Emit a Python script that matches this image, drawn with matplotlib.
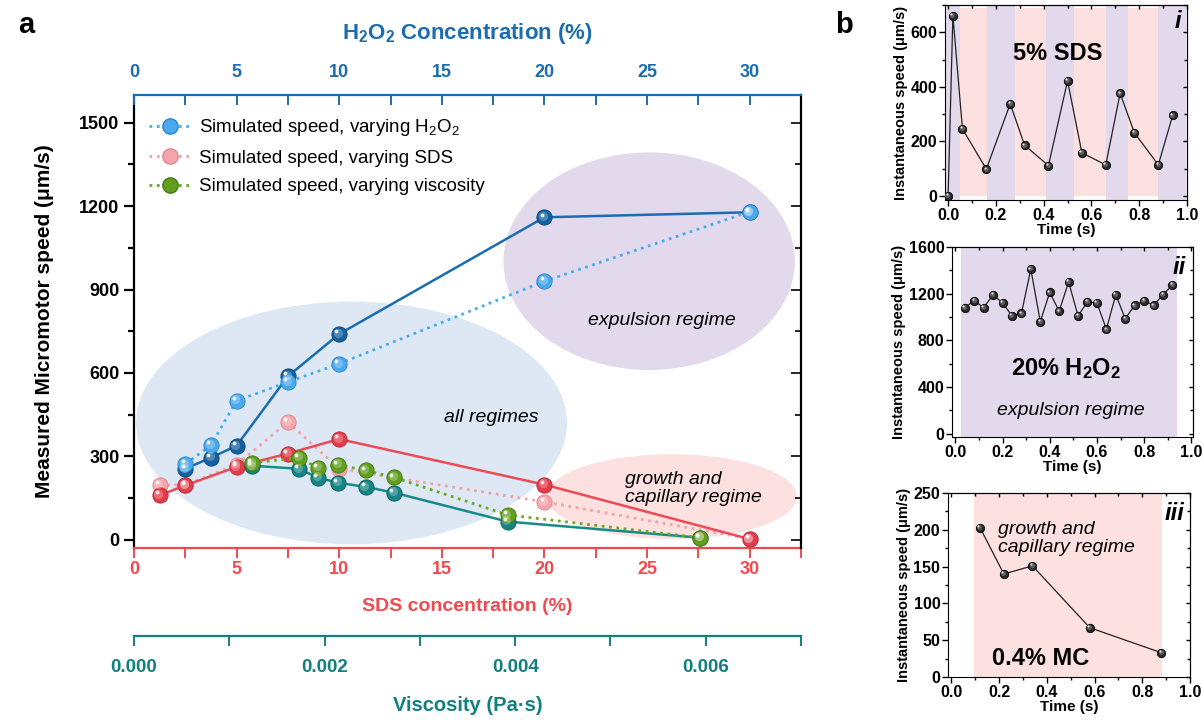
import numpy as np
import matplotlib
matplotlib.use("Agg")
import matplotlib.pyplot as plt
from matplotlib.patches import Ellipse
from matplotlib.transforms import offset_copy
from matplotlib.ticker import MultipleLocator, FormatStrFormatter

plt.rcParams["font.family"] = ["Liberation Sans", "DejaVu Sans"]
plt.rcParams["mathtext.fontset"] = "custom"
plt.rcParams["mathtext.rm"] = "Liberation Sans"
plt.rcParams["mathtext.bf"] = "Liberation Sans:bold"
plt.rcParams["mathtext.it"] = "Liberation Sans:italic"
plt.rcParams["mathtext.default"] = "rm"

# ---- panel a data ----
h2o2_pct = [2.5, 3.75, 5, 7.5, 10, 20, 30]
h2o2_measured = [255, 295, 338, 588, 740, 1160, 1178]
h2o2_simulated = [272, 340, 500, 567, 633, 930, 1180]

sds_pct = [1.25, 2.5, 5, 7.5, 10, 20, 30]
sds_measured = [160, 195, 262, 310, 362, 198, 2]
sds_simulated = [197, 197, 270, 423, 255, 136, 3]

viscosity = [0.00124, 0.00173, 0.00193, 0.00214, 0.00243, 0.00273, 0.00392, 0.00594]
visc_measured = [266, 255, 223, 205, 190, 169, 65, 7]
visc_simulated = [276, 295, 259, 270, 249, 224, 89, 7]

# ---- panel b data ----
t_sds = [0, 0.02, 0.06, 0.16, 0.26, 0.32, 0.42, 0.50, 0.56, 0.66, 0.72, 0.78, 0.88, 0.94]
v_sds = [0, 661, 246, 98, 338, 186, 111, 422, 158, 114, 376, 231, 114, 295]
band_edges = [-0.013, 0.049, 0.164, 0.28, 0.41, 0.529, 0.659, 0.755, 0.878, 0.997]

t_h2o2 = [0.04, 0.08, 0.12, 0.16, 0.20, 0.24, 0.28, 0.32, 0.36, 0.40, 0.44, 0.48,
          0.52, 0.56, 0.60, 0.64, 0.68, 0.72, 0.76, 0.80, 0.84, 0.88, 0.92]
v_h2o2 = [1080, 1140, 1080, 1190, 1120, 1010, 1030, 1410, 960, 1210, 1050, 1300,
          1010, 1130, 1120, 895, 1190, 985, 1100, 1140, 1100, 1190, 1275]

t_mc = [0.12, 0.22, 0.34, 0.58, 0.88]
v_mc = [203, 140, 151, 67, 33]

RED = "#f04a4f"
BLUE = "#1a6db0"
TEAL = "#12807f"
PURPLE_BG = "#e3d9ec"
PINK_BG = "#fde0e0"
BLUE_BG = "#dde8f4"

fig = plt.figure(figsize=(12.03, 7.2), dpi=100)


def balls(ax, x, y, color, shade, size=11, z=5, **kw):
    # fake a shaded sphere: base disc + lighter disc + white glint
    h, = ax.plot(x, y, "o", ms=size, mfc=color, mec=shade, mew=0.6, zorder=z, **kw)
    t1 = offset_copy(ax.transData, fig=fig, x=-size * 0.08, y=size * 0.08, units="points")
    ax.plot(x, y, "o", ms=size * 0.6, mfc="white", mec="none", alpha=0.25,
            transform=t1, zorder=z + 0.1)
    t2 = offset_copy(ax.transData, fig=fig, x=-size * 0.18, y=size * 0.18, units="points")
    ax.plot(x, y, "o", ms=size * 0.25, mfc="white", mec="none", alpha=0.85,
            transform=t2, zorder=z + 0.2)
    return h


# ================= panel a =================
ax = fig.add_axes([134 / 1203, 1 - 548 / 720, 667 / 1203, 453 / 720])
ax.set_xlim(0, 32.5)
ax.set_ylim(-30, 1600)

ax2 = ax.twiny()   # H2O2 on top
ax2.set_xlim(0, 32.5)
ax3 = ax.twiny()   # viscosity, detached bottom axis
ax3.set_xlim(0, 0.007)

# regime ellipses
ax.add_patch(Ellipse((26.2, 155), 12.2, 305, color=PINK_BG, lw=0, zorder=0))
ax.add_patch(Ellipse((10.6, 420), 21.0, 873, color=BLUE_BG, lw=0, zorder=0.1))
ax.add_patch(Ellipse((25.1, 1002), 14.2, 783, color=PURPLE_BG, lw=0, zorder=0.2))

ax.text(17.4, 438, "all regimes", style="italic", fontsize=14, ha="center", va="center")
ax.text(25.7, 790, "expulsion regime", style="italic", fontsize=14, ha="center", va="center")
ax.text(23.9, 183, "growth and\ncapillary regime", style="italic", fontsize=14,
        ha="left", va="center", linespacing=1.1)

# SDS series
ax.plot(sds_pct, sds_simulated, ":", color="#f2a2aa", lw=2, zorder=3)
balls(ax, sds_pct, sds_simulated, "#f4a4ab", "#e08890")
ax.plot(sds_pct, sds_measured, "-", color="#ec4a55", lw=1.8, zorder=3)
balls(ax, sds_pct, sds_measured, "#e43c4a", "#b82835")

# H2O2 series
ax2.plot(h2o2_pct, h2o2_measured, "-", color=BLUE, lw=1.8, zorder=3)
balls(ax2, h2o2_pct, h2o2_measured, "#15609f", "#0d4778")
ax2.plot(h2o2_pct, h2o2_simulated, ":", color="#45aef0", lw=2, zorder=3)
balls(ax2, h2o2_pct, h2o2_simulated, "#4aa8ec", "#2b86c8")

# viscosity series
ax3.plot(viscosity, visc_measured, "-", color="#178a8a", lw=1.8, zorder=3)
balls(ax3, viscosity, visc_measured, "#148484", "#0b5f5f")
ax3.plot(viscosity, visc_simulated, ":", color="#6aaa22", lw=2, zorder=3)
balls(ax3, viscosity, visc_simulated, "#5f9f1d", "#447a10")

# legend
hb, = ax3.plot([], [], ":", color="#45aef0", lw=2, marker="o", ms=11,
               mfc="#4aa8ec", mec="#2b86c8")
hp, = ax3.plot([], [], ":", color="#f2a2aa", lw=2, marker="o", ms=11,
               mfc="#f4a4ab", mec="#e08890")
hg, = ax3.plot([], [], ":", color="#6aaa22", lw=2, marker="o", ms=11,
               mfc="#5f9f1d", mec="#447a10")
ax3.legend([hb, hp, hg],
           ["Simulated speed, varying H$_2$O$_2$", "Simulated speed, varying SDS",
            "Simulated speed, varying viscosity"],
           loc="upper left", bbox_to_anchor=(141 / 1203, 1 - 110 / 720),
           bbox_transform=fig.transFigure, frameon=False, fontsize=13.5,
           handlelength=2.3, handletextpad=0.4, labelspacing=0.6, borderaxespad=0)

# spines
ax.spines["top"].set_visible(False)
ax.spines["right"].set_visible(False)
ax.spines["left"].set_linewidth(1.6)
ax.spines["bottom"].set_color(RED)
ax.spines["bottom"].set_linewidth(1.6)

for s in ["bottom", "left"]:
    ax2.spines[s].set_visible(False)
ax2.spines["top"].set_color(BLUE)
ax2.spines["top"].set_linewidth(1.6)
ax2.spines["right"].set_linewidth(1.6)

for s in ["top", "left", "right"]:
    ax3.spines[s].set_visible(False)
ax3.xaxis.set_ticks_position("bottom")
ax3.xaxis.set_label_position("bottom")
ax3.spines["bottom"].set_visible(True)
ax3.spines["bottom"].set_position(("outward", 63))
ax3.spines["bottom"].set_color(TEAL)
ax3.spines["bottom"].set_linewidth(1.6)

# ticks
ax.yaxis.set_major_locator(MultipleLocator(300))
ax.yaxis.set_minor_locator(MultipleLocator(150))
ax.tick_params(axis="y", which="major", direction="out", length=7, width=1.6, labelsize=13)
ax.tick_params(axis="y", which="minor", direction="out", length=4, width=1.6)
for lab in ax.get_yticklabels():
    lab.set_fontweight("bold")

ax2.yaxis.set_visible(True)
ax2.yaxis.tick_right()
ax2.tick_params(axis="y", which="major", direction="in", length=7, width=1.2, labelright=False)
ax2.tick_params(axis="y", which="minor", direction="in", length=4, width=1.2)

for a_, col, d in [(ax, RED, "out"), (ax2, BLUE, "in")]:
    a_.xaxis.set_major_locator(MultipleLocator(5))
    a_.xaxis.set_minor_locator(MultipleLocator(2.5))
    a_.tick_params(axis="x", which="both", direction=d, length=7, width=1.4,
                   color=col, labelcolor=col, labelsize=13)

ax.tick_params(axis="x", pad=2)
ax2.tick_params(axis="x", pad=10)
ax3.xaxis.set_major_locator(MultipleLocator(0.002))
ax3.xaxis.set_minor_locator(MultipleLocator(0.001))
ax3.xaxis.set_major_formatter(FormatStrFormatter("%.3f"))
ax3.tick_params(axis="x", which="both", direction="out", length=7, width=1.4,
                color=TEAL, labelcolor=TEAL, labelsize=13.5, pad=10)

for a_ in (ax, ax2, ax3):
    for lab in a_.get_xticklabels():
        lab.set_fontweight("bold")

ax.set_ylabel("Measured Micromotor speed (\u03bcm/s)", fontsize=15, fontweight="bold", labelpad=18)
ax.set_xlabel("SDS concentration (%)", fontsize=14, fontweight="bold", color=RED, labelpad=15)
ax2.set_xlabel(r"$\mathbf{H_2O_2}$ Concentration (%)", fontsize=16, fontweight="bold",
               color=BLUE, labelpad=18)
ax3.set_xlabel("Viscosity (Pa\u00b7s)", fontsize=14.5, fontweight="bold", color=TEAL, labelpad=14)

fig.text(18 / 1203, 1 - 25 / 720, "a", fontsize=21, fontweight="bold", va="center")
fig.text(835 / 1203, 1 - 25 / 720, "b", fontsize=21, fontweight="bold", va="center")


# ================= panel b =================
def small_panel(rect, t, v, xlim, ylim, ymaj, ymin_):
    a = fig.add_axes(rect)
    a.set_xlim(*xlim)
    a.set_ylim(*ylim)
    a.plot(t, v, "-", color="#222222", lw=0.9, zorder=3)
    balls(a, t, v, "#2a2a2a", "#000000", size=6, z=4)
    a.xaxis.set_major_locator(MultipleLocator(0.2))
    a.xaxis.set_minor_locator(MultipleLocator(0.1))
    a.yaxis.set_major_locator(MultipleLocator(ymaj))
    a.yaxis.set_minor_locator(MultipleLocator(ymin_))
    a.tick_params(which="major", direction="out", length=4, width=1, labelsize=11.5, pad=1.5)
    a.tick_params(which="minor", direction="out", length=2.5, width=1)
    for lab in a.get_xticklabels() + a.get_yticklabels():
        lab.set_fontweight("bold")
    for side in ("top", "right"):
        sec = a.secondary_xaxis("top") if side == "top" else a.secondary_yaxis("right")
        axis = sec.xaxis if side == "top" else sec.yaxis
        axis.set_major_locator(MultipleLocator(0.2 if side == "top" else ymaj))
        axis.set_minor_locator(MultipleLocator(0.1 if side == "top" else ymin_))
        sec.tick_params(which="major", direction="in", length=3, width=1,
                        labeltop=False, labelright=False)
        sec.tick_params(which="minor", direction="in", length=2, width=1)
    a.set_xlabel("Time (s)", fontsize=11, fontweight="bold", labelpad=0)
    a.set_ylabel("Instantaneous speed (\u03bcm/s)", fontsize=10.5, fontweight="bold", labelpad=2)
    return a


b1 = small_panel([945 / 1203, 1 - 200 / 720, 242 / 1203, 195 / 720],
                 t_sds, v_sds, (-0.013, 1.0), (-15, 700), 200, 100)
for k in range(len(band_edges) - 1):
    if k % 2 == 0:
        b1.axvspan(band_edges[k], band_edges[k + 1], color=PURPLE_BG, lw=0, zorder=0)
    else:
        b1.axvspan(band_edges[k], band_edges[k + 1], ymin=0.02, ymax=0.985,
                   color=PINK_BG, lw=0, zorder=0)
b1.text(0.46, 522, "5% SDS", fontsize=17, fontweight="bold", ha="center", va="center")
b1.text(0.975, 640, "i", fontsize=17, fontweight="bold", style="italic", ha="right", va="center")

b2 = small_panel([952 / 1203, 1 - 437 / 720, 241 / 1203, 190 / 720],
                 t_h2o2, v_h2o2, (-0.014, 1.007), (-30, 1600), 400, 200)
b2.axvspan(0.025, 0.94, color=PURPLE_BG, lw=0, zorder=0)
b2.text(0.47, 560, r"20% $\mathbf{H_2O_2}$", fontsize=17, fontweight="bold",
        ha="center", va="center")
b2.text(0.49, 195, "expulsion regime", fontsize=14, style="italic", ha="center", va="center")
b2.text(0.975, 1420, "ii", fontsize=17, fontweight="bold", style="italic", ha="right", va="center")

b3 = small_panel([948 / 1203, 1 - 677 / 720, 242 / 1203, 184 / 720],
                 t_mc, v_mc, (-0.014, 1.0), (0, 250), 50, 25)
b3.axvspan(0.095, 0.881, color=PINK_BG, lw=0, zorder=0)
b3.text(0.195, 188, "growth and\ncapillary regime", fontsize=14, style="italic",
        ha="left", va="center", linespacing=1.05)
b3.text(0.17, 25, "0.4% MC", fontsize=17, fontweight="bold", ha="left", va="center")
b3.text(0.975, 222, "iii", fontsize=17, fontweight="bold", style="italic", ha="right", va="center")

fig.savefig("out.png", dpi=100)
